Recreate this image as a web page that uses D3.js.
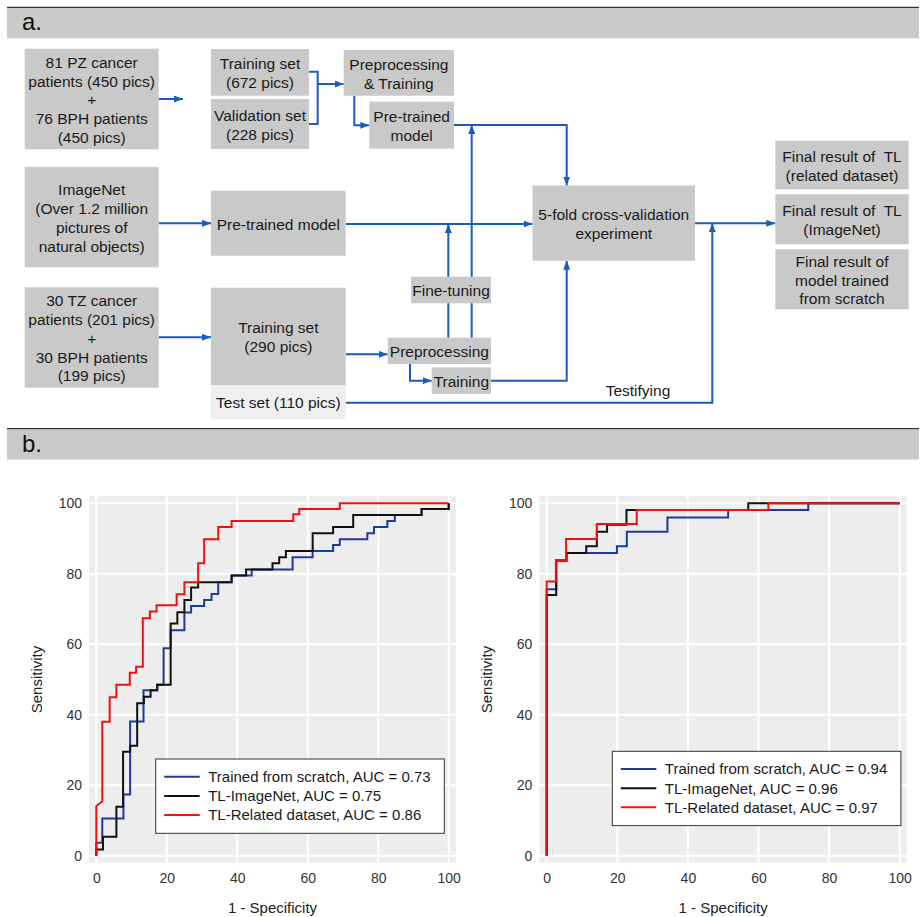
<!DOCTYPE html>
<html>
<head>
<meta charset="utf-8">
<script src="https://cdn.jsdelivr.net/npm/d3@7"></script>
<style>
  body { margin: 0; background: #fff; }
  svg { font-family: "Liberation Sans", Arial, sans-serif; display: block; }
  .box text { white-space: pre; }
</style>
</head>
<body>
<div id="fig"></div>
<script>
// ---- data ----
const seriesNames = ["Trained from scratch", "TL-ImageNet", "TL-Related dataset"];
const seriesColors = ["#1c3b9e", "#111111", "#f01010"];
const aucLeft = [0.73, 0.75, 0.86];
const aucRight = [0.94, 0.96, 0.97];
const axisTicks = [0, 20, 40, 60, 80, 100];

// ROC points [1 - specificity, sensitivity]
const leftScratch = [[0,0],[0,3.7],[1.7,3.7],[1.7,10.6],[7.7,10.6],[7.7,17.4],[9.6,17.4],[9.6,38.1],[13.4,38.1],[13.4,47],[17.3,47],[17.3,48.5],[19.1,48.5],[19.1,58.9],[21.1,58.9],[21.1,64],[25,64],[25,69],[26.9,69],[26.9,70.9],[30.6,70.9],[30.6,72.6],[32.7,72.6],[32.7,74.3],[34.6,74.3],[34.6,77.6],[38.4,77.6],[38.4,79.5],[44.1,79.5],[44.1,81.2],[55.7,81.2],[55.7,84.7],[61.4,84.7],[61.4,86.5],[67.2,86.5],[67.2,88.2],[69.1,88.2],[69.1,89.8],[76.9,89.8],[76.9,91.5],[78.8,91.5],[78.8,93.3],[82.6,93.3],[82.6,95],[84.7,95],[84.7,96.7],[92.3,96.7],[92.3,98.4],[100,98.4],[100,100]];
const leftImageNet = [[0,0],[0,1.8],[1.9,1.8],[1.9,5.4],[5.7,5.4],[5.7,13.9],[7.6,13.9],[7.6,29.5],[9.6,29.5],[9.6,31.2],[11.6,31.2],[11.6,43.3],[13.5,43.3],[13.5,45.1],[15.4,45.1],[15.4,47],[17.3,47],[17.3,48.5],[21.1,48.5],[21.1,65.9],[23,65.9],[23,69.1],[25,69.1],[25,72.6],[26.9,72.6],[26.9,76.1],[28.9,76.1],[28.9,77.6],[38.4,77.6],[38.4,79.5],[42.5,79.5],[42.5,81.2],[50,81.2],[50,83],[51.9,83],[51.9,84.7],[53.8,84.7],[53.8,86.5],[61.4,86.5],[61.4,91.5],[67.2,91.5],[67.2,93.3],[72.9,93.3],[72.9,96.7],[92.3,96.7],[92.3,98.4],[100,98.4],[100,100]];
const leftRelated = [[0,0],[0,14.1],[1.7,15.5],[1.7,38],[3.8,38],[3.8,45],[5.7,45],[5.7,48.5],[9.5,48.5],[9.5,51.9],[11.3,51.9],[11.3,53.6],[13.2,53.6],[13.2,67.4],[15.2,67.4],[15.2,69.3],[17.1,69.3],[17.1,71.1],[22.8,71.1],[22.8,74.2],[25,74.2],[25,77.6],[28.9,77.6],[28.9,83],[30.6,83],[30.6,89.8],[34.6,89.8],[34.6,93.3],[38.4,93.3],[38.4,95],[55.9,95],[55.9,96.9],[57.6,96.9],[57.6,98.4],[69.1,98.4],[69.1,100],[100,100]];

const rightScratch = [[0,0],[0,75.6],[2.7,75.6],[2.7,83.8],[5.6,83.8],[5.6,85.9],[19.9,85.9],[19.9,87.8],[22.7,87.8],[22.7,91.9],[34.2,91.9],[34.2,96],[51.4,96],[51.4,98.1],[74.1,98.1],[74.1,100],[100,100]];
const rightImageNet = [[0,0],[0,74],[2.7,74],[2.7,83.8],[5.6,83.8],[5.6,85.9],[11.2,85.9],[11.2,87.8],[14.2,87.8],[14.2,91.9],[17.1,91.9],[17.1,93.9],[22.6,93.9],[22.6,98.1],[57.1,98.1],[57.1,100],[100,100]];
const rightRelated = [[0,0],[0,77.8],[2.6,77.8],[2.6,83.9],[5.5,83.9],[5.5,89.9],[14.2,89.9],[14.2,94.1],[25.5,94.1],[25.5,98.1],[62.8,98.1],[62.8,100],[100,100]];

// flowchart text
const flowBoxes = [
  { id: "pz", lines: ["81 PZ cancer", "patients (450 pics)", "+", "76 BPH patients", "(450 pics)"] },
  { id: "train1", lines: ["Training set", "(672 pics)"] },
  { id: "valid1", lines: ["Validation set", "(228 pics)"] },
  { id: "prepTrain", lines: ["Preprocessing", "& Training"] },
  { id: "pre1", lines: ["Pre-trained", "model"] },
  { id: "imagenet", lines: ["ImageNet", "(Over 1.2 million", "pictures of", "natural objects)"] },
  { id: "pre2", lines: ["Pre-trained model"] },
  { id: "cv", lines: ["5-fold cross-validation", "experiment"] },
  { id: "resRel", lines: ["Final result of  TL", "(related dataset)"] },
  { id: "resImg", lines: ["Final result of  TL", "(ImageNet)"] },
  { id: "resScr", lines: ["Final result of", "model trained", "from scratch"] },
  { id: "tz", lines: ["30 TZ cancer", "patients (201 pics)", "+", "30 BPH patients", "(199 pics)"] },
  { id: "train2", lines: ["Training set", "(290 pics)"] },
  { id: "test", lines: ["Test set (110 pics)"] },
  { id: "fine", lines: ["Fine-tuning"] },
  { id: "prep", lines: ["Preprocessing"] },
  { id: "train3", lines: ["Training"] }
];

// ---- layout ----
const W = 921, H = 917;
const boxLayout = {
  pz: [24.7, 48.7, 134, 100.6], train1: [211, 49, 98, 46.7], valid1: [211, 99, 98, 50],
  prepTrain: [343.7, 50, 110.3, 45.7], pre1: [369.3, 101.7, 84.7, 47],
  imagenet: [24.7, 167, 134, 100.3], pre2: [211, 190.7, 134.7, 65], cv: [532.5, 185.5, 162.5, 75.2],
  resRel: [775.3, 140.7, 133.4, 48.6], resImg: [775.3, 194.3, 133.4, 50], resScr: [775.3, 249.3, 133.4, 60],
  tz: [24.7, 287.3, 134, 100.4], train2: [211, 287.7, 134.7, 97.3], test: [211, 385, 134.7, 34.3],
  fine: [411, 276.7, 80, 26.6], prep: [387.7, 337.7, 103.3, 26.3], train3: [431.7, 367.3, 59.3, 26.7]
};
const flowLinks = [
  { pts: [[158.7, 99], [183, 99]], arrow: true },
  { pts: [[309, 71.7], [317.7, 71.7], [317.7, 124], [309, 124]], arrow: false },
  { pts: [[317.7, 84], [343.7, 84]], arrow: true },
  { pts: [[354.3, 95.7], [354.3, 125.3], [369.3, 125.3]], arrow: true },
  { pts: [[454, 125], [566.7, 125], [566.7, 185.5]], arrow: true },
  { pts: [[158.7, 223.3], [211, 223.3]], arrow: true },
  { pts: [[345.7, 224], [532.5, 224]], arrow: true },
  { pts: [[695, 223.3], [775.3, 223.3]], arrow: true },
  { pts: [[158.7, 337.3], [211, 337.3]], arrow: true },
  { pts: [[345.7, 354.3], [387.7, 354.3]], arrow: true },
  { pts: [[410, 364], [410, 380.7], [431.7, 380.7]], arrow: true },
  { pts: [[448.3, 337.7], [448.3, 224]], arrow: true },
  { pts: [[471.7, 337.7], [471.7, 125]], arrow: true },
  { pts: [[491, 380.7], [566.7, 380.7], [566.7, 260.7]], arrow: true },
  { pts: [[345.7, 402.7], [712.3, 402.7], [712.3, 223.3]], arrow: true }
];
const flowBlue = "#1b5cba";

const svg = d3.select("#fig").append("svg")
  .attr("width", W).attr("height", H);

svg.append("defs").append("marker")
  .attr("id", "arr")
  .attr("markerUnits", "userSpaceOnUse")
  .attr("viewBox", "0 0 9 7")
  .attr("refX", 9).attr("refY", 3.5)
  .attr("markerWidth", 9).attr("markerHeight", 7)
  .attr("orient", "auto")
  .append("path")
  .attr("d", "M0,0 L9,3.5 L0,7 Z")
  .attr("fill", flowBlue);

// section header bars
function header(y, label) {
  svg.append("line").attr("x1", 7).attr("x2", 919).attr("y1", y - 0.8).attr("y2", y - 0.8)
    .attr("stroke", "#333").attr("stroke-width", 1.4);
  svg.append("rect").attr("x", 7).attr("y", y).attr("width", 912).attr("height", 30)
    .attr("fill", "#cacaca");
  svg.append("text").attr("x", 22).attr("y", y + 22).attr("font-size", 24)
    .attr("fill", "#111").text(label);
}
header(8.3, "a.");
header(429.5, "b.");

// ---- panel a: flowchart ----
const lineGen = d3.line();
svg.append("g").selectAll("path")
  .data(flowLinks)
  .enter().append("path")
  .attr("d", d => lineGen(d.pts))
  .attr("fill", "none")
  .attr("stroke", flowBlue)
  .attr("stroke-width", 2)
  .attr("marker-end", d => d.arrow ? "url(#arr)" : null);

const boxes = svg.append("g").selectAll(".box")
  .data(flowBoxes)
  .enter().append("g")
  .attr("class", "box");

boxes.append("rect")
  .attr("x", d => boxLayout[d.id][0])
  .attr("y", d => boxLayout[d.id][1])
  .attr("width", d => boxLayout[d.id][2])
  .attr("height", d => boxLayout[d.id][3])
  .attr("fill", d => d.id === "test" ? "#efefef" : "#c9c9c9");

boxes.each(function (d) {
  const [bx, by, bw, bh] = boxLayout[d.id];
  const cx = bx + bw / 2, cy = by + bh / 2;
  const n = d.lines.length;
  d3.select(this).selectAll("text")
    .data(d.lines)
    .enter().append("text")
    .attr("x", cx)
    .attr("y", (t, i) => cy + (i - (n - 1) / 2) * 18.8 + 6.3)
    .attr("text-anchor", "middle")
    .attr("font-size", 15.5)
    .attr("fill", "#1a1a1a")
    .text(t => t);
});

svg.append("text").attr("x", 638).attr("y", 395.5)
  .attr("text-anchor", "middle").attr("font-size", 15.5).attr("fill", "#1a1a1a")
  .text("Testifying");

// ---- panel b: ROC curves ----
function drawRoc(opt) {
  const g = svg.append("g");
  const x = d3.scaleLinear().domain([0, 100]).range(opt.xRange);
  const y = d3.scaleLinear().domain([0, 100]).range([855.8, 503.3]);
  const [px0, px1] = opt.panelX, py0 = 496, py1 = 862.7;

  g.append("rect").attr("x", px0).attr("y", py0)
    .attr("width", px1 - px0).attr("height", py1 - py0).attr("fill", "#ededed");

  g.append("g").selectAll("line.gx").data(axisTicks).enter().append("line")
    .attr("x1", d => x(d)).attr("x2", d => x(d)).attr("y1", py0).attr("y2", py1)
    .attr("stroke", "#fff").attr("stroke-width", 2);
  g.append("g").selectAll("line.gy").data(axisTicks).enter().append("line")
    .attr("y1", d => y(d)).attr("y2", d => y(d)).attr("x1", px0).attr("x2", px1)
    .attr("stroke", "#fff").attr("stroke-width", 2);

  const xAxis = g.append("g").attr("transform", `translate(0,${py1})`)
    .call(d3.axisBottom(x).tickValues(axisTicks).tickSize(0).tickPadding(10));
  const yAxis = g.append("g").attr("transform", `translate(${px0},0)`)
    .call(d3.axisLeft(y).tickValues(axisTicks).tickSize(0).tickPadding(7));
  [xAxis, yAxis].forEach(a => {
    a.select(".domain").remove();
    a.selectAll("text").attr("font-size", 14).attr("fill", "#333")
      .attr("font-family", "Liberation Sans, Arial, sans-serif");
  });

  g.append("text").attr("x", (opt.xRange[0] + opt.xRange[1]) / 2).attr("y", 912.5)
    .attr("text-anchor", "middle").attr("font-size", 15).attr("fill", "#222")
    .text("1 - Specificity");
  g.append("text")
    .attr("transform", `translate(${opt.yLabelX},679.5) rotate(-90)`)
    .attr("text-anchor", "middle").attr("dy", "0.35em")
    .attr("font-size", 15).attr("fill", "#222")
    .text("Sensitivity");

  const line = d3.line().x(d => x(d[0])).y(d => y(d[1]));
  g.append("g").selectAll("path").data(opt.curves).enter().append("path")
    .attr("d", d => line(d))
    .attr("fill", "none")
    .attr("stroke", (d, i) => seriesColors[i])
    .attr("stroke-width", 2);

  // legend
  const lg = g.append("g").attr("transform", `translate(${opt.legend[0]},${opt.legend[1]})`);
  lg.append("rect").attr("width", 288.6).attr("height", 74.3)
    .attr("fill", "#fff").attr("stroke", "#333").attr("stroke-width", 1);
  const rows = lg.selectAll("g").data(seriesNames).enter().append("g")
    .attr("transform", (d, i) => `translate(0,${17.8 + i * 19.1})`);
  rows.append("line").attr("x1", 8.5).attr("x2", 44).attr("y1", 0).attr("y2", 0)
    .attr("stroke", (d, i) => seriesColors[i]).attr("stroke-width", 2);
  rows.append("text").attr("x", 52.5).attr("y", 5.3)
    .attr("font-size", 15).attr("fill", "#1a1a1a")
    .text((d, i) => `${d}, AUC = ${opt.auc[i].toFixed(2)}`);
}

drawRoc({
  xRange: [96.3, 448.7], panelX: [89, 456], yLabelX: 37,
  curves: [leftScratch, leftImageNet, leftRelated], auc: aucLeft,
  legend: [155.7, 759]
});
drawRoc({
  xRange: [546.7, 899.7], panelX: [539.3, 906.7], yLabelX: 486.7,
  curves: [rightScratch, rightImageNet, rightRelated], auc: aucRight,
  legend: [612.3, 751.3]
});
</script>
</body>
</html>
